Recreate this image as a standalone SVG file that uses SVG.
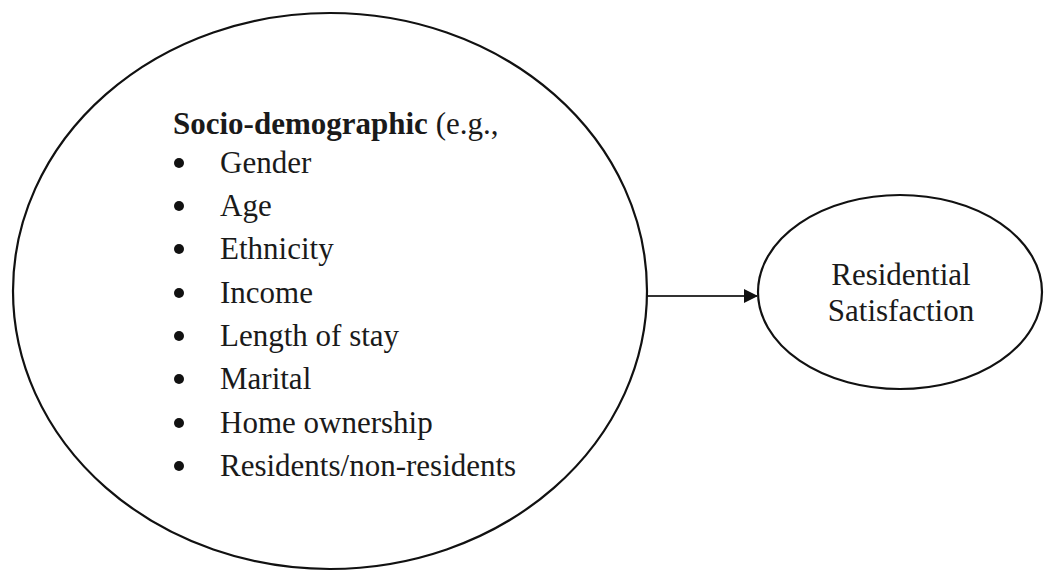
<svg xmlns="http://www.w3.org/2000/svg" width="1045" height="571" viewBox="0 0 1045 571">
  <style>
    .shape { fill: #ffffff; stroke: #111111; stroke-width: 2.2; }
    .label { font-family: "Liberation Serif", "Times New Roman", serif; font-size: 31px; fill: #1a1a1a; }
    .title { font-weight: bold; }
    .edge { stroke: #333333; stroke-width: 2; fill: none; }
    .bullet { fill: #111111; }
  </style>
  <defs>
    <marker id="arrowhead" markerWidth="14" markerHeight="14" refX="13" refY="7" orient="auto" markerUnits="userSpaceOnUse">
      <path d="M0,0 L14,7 L0,14 Z" fill="#111111"/>
    </marker>
  </defs>
  <rect width="1045" height="571" fill="#ffffff"/>

  <g id="connectors">
    <line class="edge" x1="646" y1="296" x2="757" y2="296" marker-end="url(#arrowhead)"/>
  </g>

  <g id="socio-demographic">
    <ellipse class="shape" cx="330" cy="291" rx="317" ry="278"/>
    <text class="label" x="173" y="134"><tspan class="title">Socio-demographic</tspan> (e.g.,</text>
    <g>
      <circle class="bullet" cx="179" cy="163" r="5"/>
      <circle class="bullet" cx="179" cy="206" r="5"/>
      <circle class="bullet" cx="179" cy="249" r="5"/>
      <circle class="bullet" cx="179" cy="293" r="5"/>
      <circle class="bullet" cx="179" cy="336" r="5"/>
      <circle class="bullet" cx="179" cy="379" r="5"/>
      <circle class="bullet" cx="179" cy="423" r="5"/>
      <circle class="bullet" cx="179" cy="466" r="5"/>
    </g>
    <text class="label" x="220" y="173">Gender</text>
    <text class="label" x="220" y="216">Age</text>
    <text class="label" x="220" y="259">Ethnicity</text>
    <text class="label" x="220" y="303">Income</text>
    <text class="label" x="220" y="346">Length of stay</text>
    <text class="label" x="220" y="389">Marital</text>
    <text class="label" x="220" y="433">Home ownership</text>
    <text class="label" x="220" y="476">Residents/non-residents</text>
  </g>

  <g id="residential-satisfaction">
    <ellipse class="shape" cx="900" cy="292" rx="142" ry="97"/>
    <text class="label" x="901" y="285" text-anchor="middle">Residential</text>
    <text class="label" x="901" y="321" text-anchor="middle">Satisfaction</text>
  </g>
</svg>
